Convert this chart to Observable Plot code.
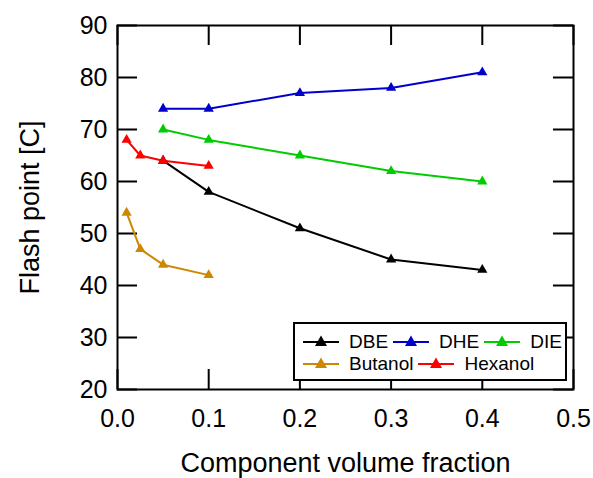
<!DOCTYPE html>
<html>
<head>
<meta charset="utf-8">
<script src="https://cdn.jsdelivr.net/npm/d3@7"></script>
<script src="https://cdn.jsdelivr.net/npm/@observablehq/plot@0.6"></script>
<style>
  html, body { margin: 0; padding: 0; background: #fff; }
  #chart { position: relative; width: 593px; height: 478px; font-family: "Liberation Sans", Arial, sans-serif; }
  #legend {
    position: absolute; left: 293px; top: 322px; width: 274px; height: 59px;
    box-sizing: border-box; border: 2px solid #000; background: #fff;
    padding: 6px 0 0 8px;
  }
  .row { display: flex; align-items: center; height: 22px; }
  .item { display: flex; align-items: center; margin-right: 5px; }
  .item span { font-size: 19px; color: #000; margin-left: 10px; line-height: 19px; }
</style>
</head>
<body>
<div id="chart"></div>
<script>
// Flash point of blends versus component volume fraction
const seriesNames = ["DBE", "DHE", "DIE", "Butanol", "Hexanol"];
const seriesColors = ["#000000", "#0000CC", "#00CC00", "#CC8800", "#FF0000"];

const dbeFraction = [0.05, 0.1, 0.2, 0.3, 0.4];
const dbeFlash = [64, 58, 51, 45, 43];
const dheFraction = [0.05, 0.1, 0.2, 0.3, 0.4];
const dheFlash = [74, 74, 77, 78, 81];
const dieFraction = [0.05, 0.1, 0.2, 0.3, 0.4];
const dieFlash = [70, 68, 65, 62, 60];
const butanolFraction = [0.01, 0.025, 0.05, 0.1];
const butanolFlash = [54, 47, 44, 42];
const hexanolFraction = [0.01, 0.025, 0.05, 0.1];
const hexanolFlash = [68, 65, 64, 63];

const xTicks = [0, 0.1, 0.2, 0.3, 0.4, 0.5];
const yTicks = [20, 30, 40, 50, 60, 70, 80, 90];
const xTitle = "Component volume fraction";
const yTitle = "Flash point [C]";
const legendRows = [["DBE", "DHE", "DIE"], ["Butanol", "Hexanol"]];

const columns = [
  [dbeFraction, dbeFlash], [dheFraction, dheFlash], [dieFraction, dieFlash],
  [butanolFraction, butanolFlash], [hexanolFraction, hexanolFlash]
];
const rows = seriesNames.flatMap((name, i) =>
  columns[i][0].map((f, j) => ({series: name, fraction: f, flash: columns[i][1][j]}))
);

const W = 593, H = 478;
const mL = 117, mR = 20, mT = 25, mB = 89;
const innerW = W - mL - mR, innerH = H - mT - mB;
const tickLen = 20;

const chart = Plot.plot({
  width: W, height: H,
  marginLeft: mL, marginRight: mR, marginTop: mT, marginBottom: mB,
  style: {fontFamily: '"Liberation Sans", Arial, sans-serif', background: "#fff", color: "#000"},
  x: {domain: [0, 0.5]},
  y: {domain: [20, 90]},
  color: {domain: seriesNames, range: seriesColors},
  marks: [
    // inward ticks on all four sides
    Plot.tickY(yTicks, {y: d => d, insetRight: innerW - tickLen, stroke: "#000", strokeWidth: 2}),
    Plot.tickY(yTicks, {y: d => d, insetLeft: innerW - tickLen, stroke: "#000", strokeWidth: 2}),
    Plot.tickX(xTicks, {x: d => d, insetTop: innerH - tickLen, stroke: "#000", strokeWidth: 2}),
    Plot.tickX(xTicks, {x: d => d, insetBottom: innerH - tickLen, stroke: "#000", strokeWidth: 2}),
    Plot.axisX({ticks: xTicks, tickSize: 0, tickPadding: 20, tickFormat: d3.format(".1f"), fontSize: 25, label: null}),
    Plot.axisY({ticks: yTicks, tickSize: 0, tickPadding: 10, fontSize: 25, label: null}),
    Plot.text([xTitle], {text: d => d, frameAnchor: "bottom", textAnchor: "middle", lineAnchor: "bottom", dy: 82, fontSize: 27, fill: "#000"}),
    Plot.text([yTitle], {text: d => d, frameAnchor: "left", textAnchor: "middle", rotate: -90, lineAnchor: "bottom", dx: -79, fontSize: 27, fill: "#000"}),
    Plot.line(rows, {x: "fraction", y: "flash", z: "series", stroke: "series", strokeWidth: 2}),
    Plot.dot(rows, {x: "fraction", y: "flash", fill: "series", symbol: "triangle", r: 3.8, stroke: "none"}),
    Plot.frame({stroke: "#000", strokeWidth: 2})
  ]
});

const root = document.getElementById("chart");
root.appendChild(chart);

// legend box inside the plot area
const legend = document.createElement("div");
legend.id = "legend";
legendRows.forEach(names => {
  const row = document.createElement("div");
  row.className = "row";
  names.forEach(name => {
    const color = seriesColors[seriesNames.indexOf(name)];
    const item = document.createElement("div");
    item.className = "item";
    item.innerHTML =
      `<svg width="36" height="14" viewBox="0 0 36 14">
         <line x1="0" x2="36" y1="8" y2="8" stroke="${color}" stroke-width="2"/>
         <polygon points="18,1.5 24,12 12,12" fill="${color}"/>
       </svg><span>${name}</span>`;
    row.appendChild(item);
  });
  legend.appendChild(row);
});
root.appendChild(legend);
</script>
</body>
</html>
